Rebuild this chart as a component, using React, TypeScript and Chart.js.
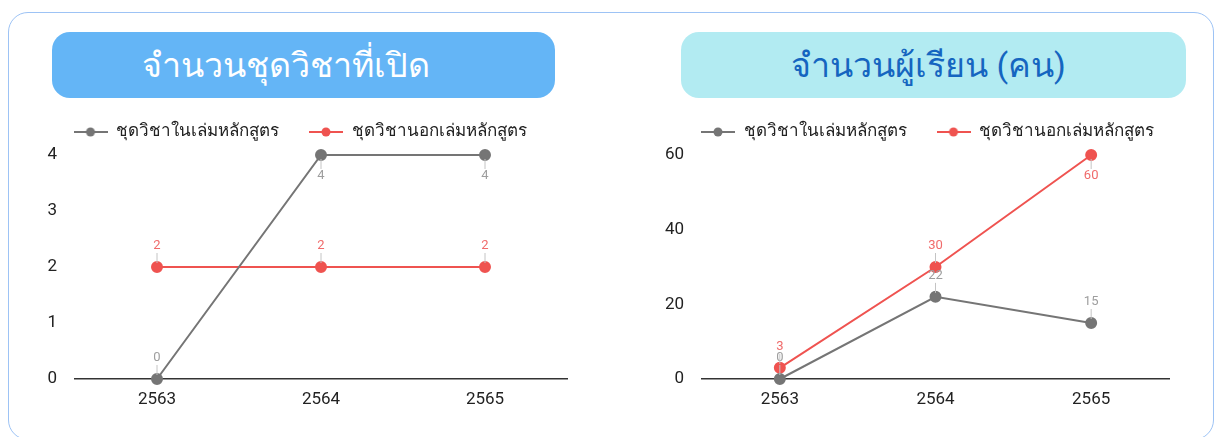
import React, { useEffect, useRef } from "react";
import { Chart, registerables } from "chart.js";

Chart.register(...registerables);

// ---- data ----
const years = ["2563", "2564", "2565"];
const seriesNames = ["ชุดวิชาในเล่มหลักสูตร", "ชุดวิชานอกเล่มหลักสูตร"];
const coursesInside = [0, 4, 4];
const coursesOutside = [2, 2, 2];
const learnersInside = [0, 22, 15];
const learnersOutside = [3, 30, 60];
const coursesAxis = { min: 0, max: 4, step: 1 };
const learnersAxis = { min: 0, max: 60, step: 20 };
const titleCourses = "จำนวนชุดวิชาที่เปิด";
const titleLearners = "จำนวนผู้เรียน (คน)";

const GRAY = "#757575";
const RED = "#ef5350";
const GRAY_LABEL = "#9e9e9e";
const RED_LABEL = "#f06b6b";
const FONT = "Roboto, 'Noto Sans', sans-serif";

function legendIcon(color: string): HTMLCanvasElement {
  const c = document.createElement("canvas");
  c.width = 34;
  c.height = 10;
  const g = c.getContext("2d")!;
  g.strokeStyle = color;
  g.lineWidth = 2;
  g.beginPath();
  g.moveTo(0, 5);
  g.lineTo(34, 5);
  g.stroke();
  g.fillStyle = color;
  g.beginPath();
  g.arc(17, 5, 4.5, 0, Math.PI * 2);
  g.fill();
  return c;
}

const valueLabelPlugin = {
  id: "valueLabels",
  afterDatasetsDraw(chart: any, _args: any, opts: any) {
    const ctx = chart.ctx;
    const yScale = chart.scales.y;
    chart.data.datasets.forEach((ds: any, di: number) => {
      const meta = chart.getDatasetMeta(di);
      meta.data.forEach((pt: any, i: number) => {
        const v = ds.data[i];
        const dir = v >= yScale.max ? 1 : -1;
        ctx.save();
        ctx.strokeStyle = "#c4c4c4";
        ctx.lineWidth = 1;
        ctx.beginPath();
        ctx.moveTo(pt.x, pt.y + dir * 4);
        ctx.lineTo(pt.x, pt.y + dir * 14);
        ctx.stroke();
        ctx.fillStyle = opts.colors[di];
        ctx.font = "13px " + FONT;
        ctx.textAlign = "center";
        ctx.textBaseline = "middle";
        ctx.fillText(String(v), pt.x, pt.y + dir * 21);
        ctx.restore();
      });
    });
  },
};

const legendExtraPlugin = {
  id: "legendExtra",
  afterInit(chart: any, _args: any, opts: any) {
    const lg = chart.legend;
    if (lg) {
      const orig = lg.fit.bind(lg);
      lg.fit = function () {
        orig();
        this.height += opts.extra || 0;
      };
    }
  },
  afterLayout(chart: any, _args: any, opts: any) {
    const lg = chart.legend;
    if (lg && opts.shift) {
      lg.left += opts.shift;
      lg.right += opts.shift;
    }
  },
};

type PanelProps = {
  left: number;
  top: number;
  width: number;
  height: number;
  padLeft: number;
  padRight: number;
  yWidth: number;
  legendShift: number;
  inside: number[];
  outside: number[];
  axis: { min: number; max: number; step: number };
};

function LinePanel(p: PanelProps) {
  const ref = useRef<HTMLCanvasElement | null>(null);
  useEffect(() => {
    if (!ref.current) return;
    const chart = new Chart(ref.current, {
      type: "line",
      data: {
        labels: years,
        datasets: [
          {
            label: seriesNames[0],
            data: p.inside,
            borderColor: GRAY,
            backgroundColor: GRAY,
            pointBackgroundColor: GRAY,
            pointBorderColor: GRAY,
            borderWidth: 2,
            pointRadius: 5,
            tension: 0,
            clip: false as any,
          },
          {
            label: seriesNames[1],
            data: p.outside,
            borderColor: RED,
            backgroundColor: RED,
            pointBackgroundColor: RED,
            pointBorderColor: RED,
            borderWidth: 2,
            pointRadius: 5,
            tension: 0,
            clip: false as any,
          },
        ],
      },
      options: {
        animation: false,
        responsive: false,
        maintainAspectRatio: false,
        layout: { padding: { top: 3.5, left: p.padLeft, right: p.padRight, bottom: 0 } },
        plugins: {
          tooltip: { enabled: false },
          legend: {
            position: "top",
            align: "center",
            labels: {
              usePointStyle: true,
              pointStyleWidth: 34,
              boxHeight: 10,
              padding: 30,
              color: "#222",
              font: { size: 17, family: FONT },
              generateLabels: (c: any) =>
                c.data.datasets.map((ds: any, i: number) => ({
                  text: ds.label,
                  pointStyle: legendIcon(ds.borderColor),
                  fillStyle: ds.borderColor,
                  strokeStyle: ds.borderColor,
                  lineWidth: 0,
                  hidden: false,
                  datasetIndex: i,
                  fontColor: "#222",
                })),
            },
          },
          valueLabels: { colors: [GRAY_LABEL, RED_LABEL] },
          legendExtra: { extra: 4.5, shift: p.legendShift },
        } as any,
        scales: {
          x: {
            offset: true,
            grid: { display: false, drawTicks: false },
            border: { display: true, color: "#333", width: 1.5 },
            ticks: { color: "#222", padding: 11, font: { size: 17, family: FONT } },
            afterFit: (s: any) => {
              s.height = 40;
              s.paddingLeft = 0;
              s.paddingRight = 0;
            },
          },
          y: {
            min: p.axis.min,
            max: p.axis.max,
            grid: { display: false, drawTicks: false },
            border: { display: false },
            ticks: { stepSize: p.axis.step, color: "#222", padding: 18, font: { size: 17, family: FONT } },
            afterFit: (s: any) => {
              s.width = p.yWidth;
              s.paddingTop = 0;
              s.paddingBottom = 0;
            },
          },
        },
      },
      plugins: [valueLabelPlugin, legendExtraPlugin],
    });
    return () => chart.destroy();
  }, []);
  return (
    <canvas
      ref={ref}
      width={p.width}
      height={p.height}
      style={{ position: "absolute", left: p.left, top: p.top, width: p.width, height: p.height }}
    />
  );
}

function Pill(props: { left: number; width: number; bg: string; color: string; text: string; shift: number }) {
  return (
    <div
      style={{
        position: "absolute",
        left: props.left,
        top: 32,
        width: props.width,
        height: 66,
        borderRadius: 18,
        background: props.bg,
        color: props.color,
        display: "flex",
        alignItems: "center",
        justifyContent: "center",
        fontFamily: FONT,
        fontSize: 34,
        boxSizing: "border-box",
        paddingRight: props.shift,
        whiteSpace: "nowrap",
      }}
    >
      {props.text}
    </div>
  );
}

export default function App() {
  return (
    <div style={{ position: "absolute", left: 0, top: 0, width: 1214, height: 437, overflow: "hidden", background: "#fff" }}>
      <div
        style={{
          position: "absolute",
          left: 8,
          top: 12,
          width: 1206,
          height: 428,
          border: "1px solid #9dc3f5",
          borderRadius: 20,
          boxSizing: "border-box",
        }}
      />
      <Pill left={52} width={503} bg="#64b5f6" color="#ffffff" text={titleCourses} shift={36} />
      <Pill left={681} width={505} bg="#b2ebf2" color="#1565c0" text={titleLearners} shift={10} />
      <LinePanel
        left={20}
        top={90}
        width={560}
        height={329}
        padLeft={13}
        padRight={13}
        yWidth={42}
        legendShift={0}
        inside={coursesInside}
        outside={coursesOutside}
        axis={coursesAxis}
      />
      <LinePanel
        left={646}
        top={90}
        width={553}
        height={329}
        padLeft={0}
        padRight={30}
        yWidth={56}
        legendShift={20}
        inside={learnersInside}
        outside={learnersOutside}
        axis={learnersAxis}
      />
    </div>
  );
}
